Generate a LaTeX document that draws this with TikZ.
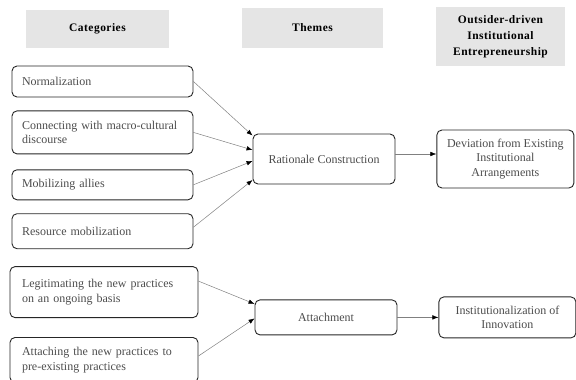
\documentclass[tikz,border=0pt]{standalone}
\usepackage{fontspec}
\setmainfont{Liberation Serif}
\newfontfamily\hdfont[LetterSpace=4]{Liberation Serif}
\usetikzlibrary{arrows.meta, positioning}

\begin{document}
\begin{tikzpicture}[
        x=1pt, y=-1pt,
        node distance=13pt,
        header/.style={rectangle, fill=gray!20, align=center, inner sep=0pt, font=\hdfont\bfseries\fontsize{11.5}{16}\selectfont},
        category/.style={rectangle, draw=black!85, line width=0.9pt, rounded corners=5pt, text=black!70, align=left, text width=161pt, inner xsep=10pt, font=\fontsize{12}{14.5}\selectfont},
        categorywide/.style={category, text width=164pt, inner xsep=12pt},
        theme/.style={rectangle, draw=black!85, line width=0.9pt, rounded corners=5pt, text=black!70, align=center, minimum width=142pt, font=\fontsize{12}{14.5}\selectfont},
        outcome/.style={theme, minimum width=137pt},
        arrow/.style={draw=gray, line width=0.5pt, -{Latex[length=6pt,width=4.5pt,color=black]}}
    ]
        \useasboundingbox (0,0) rectangle (576,380);

        % Headers
        \node[header, minimum width=143pt, minimum height=38pt] (hcat) at (97.5,29) {Categories};
        \node[header, minimum width=141pt, minimum height=40pt] (htheme) at (312.5,28) {Themes};
        \node[header, minimum width=129pt, minimum height=59pt] (hout) at (500.5,36.5) {Outsider-driven\\Institutional\\Entrepreneurship};

        % Categories
        \node[category, minimum height=31pt] (norm) at (102.5,81.5) {Normalization};
        \node[category, minimum height=43pt, below=13pt of norm] (conn) {Connecting with macro-cultural\\discourse};
        \node[category, minimum height=30pt, below=15pt of conn] (mob) {Mobilizing allies};
        \node[category, minimum height=35pt, below=13pt of mob] (res) {Resource mobilization};
        \node[categorywide, minimum height=51pt, below=17pt of res, xshift=1.5pt] (legit) {Legitimating the new practices\\on an ongoing basis};
        \node[categorywide, minimum height=45pt, below=19pt of legit] (attp) {Attaching the new practices to\\pre-existing practices};

        % Themes
        \node[theme, minimum height=50pt] (rat) at (324,159) {Rationale Construction};
        \node[theme, minimum height=35pt, below=115pt of rat, xshift=2pt] (attach) {Attachment};

        % Outcomes
        \node[outcome, minimum height=58pt, right=41pt of rat] (dev) {Deviation from Existing\\Institutional\\Arrangements};
        \node[outcome, minimum height=41pt, right=41pt of attach] (inst) {Institutionalization of\\Innovation};

        % Arrows
        \draw[arrow] (norm.east) -- ([yshift=-2pt]rat.north west);
        \draw[arrow] (conn.east) -- ([yshift=9pt]rat.west);
        \draw[arrow] (mob.east) -- ([yshift=-2pt]rat.west);
        \draw[arrow] ([yshift=4pt]res.east) -- ([yshift=-21pt]rat.west);

        \draw[arrow] ([yshift=11pt]legit.east) -- ([yshift=13.5pt]attach.west);
        \draw[arrow] ([yshift=4pt]attp.east) -- ([yshift=-1pt]attach.west);

        \draw[arrow] ([yshift=5pt]rat.east) -- ([yshift=5pt]rat.east -| dev.west);
        \draw[arrow] (attach.east) -- (inst.west);
    \end{tikzpicture}
\end{document}
